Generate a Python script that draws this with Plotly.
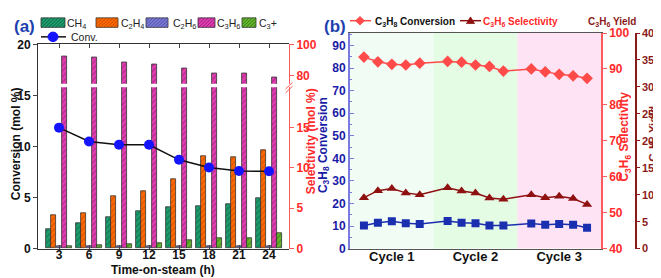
import plotly.graph_objects as go

W, H = 661, 278


def fx(px):
    return px / W


def fy(py):
    return 1 - py / H


FONT = "Liberation Sans, Arial, sans-serif"

# ---------------- data: panel (a) ----------------
time_h = [3, 6, 9, 12, 15, 18, 21, 24]
conv_a = [11.85, 10.5, 10.17, 10.17, 8.7, 7.95, 7.6, 7.57]
sel_ch4 = [2.45, 3.1, 3.9, 4.65, 5.1, 5.25, 5.5, 6.3]
sel_c2h4 = [4.1, 4.4, 6.45, 7.15, 8.65, 11.45, 11.3, 12.15]
sel_c2h6 = [0.35, 0.35, 0.3, 0.3, 0.35, 0.3, 0.3, 0.3]
sel_c3h6 = [92.5, 91.5, 88.7, 87.3, 84.8, 81.8, 81.4, 79.0]
sel_c3p = [0.35, 0.4, 0.55, 0.65, 1.0, 1.35, 1.35, 1.95]

# ---------------- data: panel (b) ----------------
cycle_labels = ["Cycle 1", "Cycle 2", "Cycle 3"]
cycle_centers = [3, 9, 15]
run_x = [1, 2, 3, 4, 5, 7, 8, 9, 10, 11, 13, 14, 15, 16, 17]
conv_b = [10.2, 11.5, 12.1, 11.2, 10.9, 12.2, 11.5, 11.2, 10.2, 10.2,
          11.1, 10.6, 10.9, 10.6, 9.25]
sel_b = [93.3, 92.0, 91.3, 91.1, 91.6, 92.1, 91.9, 91.1, 90.7, 89.4,
         90.0, 89.2, 88.5, 88.1, 87.4]
yield_b = [9.46, 10.75, 11.15, 10.34, 10.0, 11.3, 10.7, 10.3, 9.4, 9.16,
           10.0, 9.46, 9.7, 9.3, 8.2]

red = "#ff2a2a"
redline = "#ff5a5a"
dred = "#8b1a1a"
blue = "#1a1aa6"

fig = go.Figure()

bar_specs = [
    ("CH<sub>4</sub>", sel_ch4, "#1f9d6e", "#0a5a3a", -1.34),
    ("C<sub>2</sub>H<sub>4</sub>", sel_c2h4, "#ff6a00", "#b54000", -0.80),
    ("C<sub>2</sub>H<sub>6</sub>", sel_c2h6, "#7b7bd6", "#44449a", -0.24),
    ("C<sub>3</sub>H<sub>6</sub>", sel_c3h6, "#e23fae", "#86157a", 0.26),
    ("C<sub>3</sub>+", sel_c3p, "#66b82e", "#2c6a10", 0.83),
]
for name, vals, col, hatch, off in bar_specs:
    axes = ["y", "y2"] if vals is sel_c3h6 else ["y"]
    for ya in axes:
        fig.add_trace(go.Bar(
            x=time_h, y=vals, name=name, offset=off, width=0.5,
            xaxis="x", yaxis=ya, showlegend=False,
            marker=dict(color=col, line=dict(color="#333333", width=0.8),
                        pattern=dict(shape="/", bgcolor=col, fgcolor=hatch,
                                     size=4, solidity=0.35)),
        ))

fig.add_trace(go.Scatter(
    x=time_h, y=conv_a, name="Conv.", mode="lines+markers",
    xaxis="x", yaxis="y3", showlegend=False,
    line=dict(color="#111111", width=1.5),
    marker=dict(color="#1414ff", size=10, symbol="circle"),
))

# panel (b)
fig.add_trace(go.Scatter(
    x=run_x, y=sel_b, name="C3H8 Conversion", mode="lines+markers",
    xaxis="x2", yaxis="y5", showlegend=False,
    line=dict(color="#ff4a4a", width=1.5),
    marker=dict(color="#ff4a4a", size=9, symbol="diamond"),
))
fig.add_trace(go.Scatter(
    x=run_x, y=yield_b, name="C3H6 Selectivity", mode="lines+markers",
    xaxis="x2", yaxis="y6", showlegend=False,
    line=dict(color="#8e1010", width=1.5),
    marker=dict(color="#8e1010", size=9, symbol="triangle-up"),
))
fig.add_trace(go.Scatter(
    x=run_x, y=conv_b, name="C3H6 Yield", mode="lines+markers",
    xaxis="x2", yaxis="y4", showlegend=False,
    line=dict(color="#1a2fb0", width=1.5),
    marker=dict(color="#1a2fb0", size=8, symbol="square"),
))

bold12 = dict(family=FONT, size=12, color="#111111", weight="bold")

fig.update_layout(
    width=W, height=H,
    margin=dict(l=0, r=0, t=0, b=0),
    paper_bgcolor="white", plot_bgcolor="rgba(0,0,0,0)",
    barmode="overlay", bargap=0, showlegend=False,
    font=dict(family=FONT, size=12, color="#111111"),
    xaxis=dict(domain=[fx(30), fx(281)], range=[0.9, 26.0], anchor="y3",
               tickvals=time_h, ticks="inside", ticklen=4, mirror="ticks",
               showline=True, linecolor="#333333", linewidth=1,
               ticklabelstandoff=-5,
               showgrid=False, zeroline=False, tickfont=bold12),
    yaxis=dict(domain=[fy(246), fy(76)], range=[0, 20], side="right",
               anchor="x", tickvals=[0, 5, 10, 15], ticks="outside",
               ticklen=4, showline=True, linecolor=redline, linewidth=1,
               tickcolor=redline, showgrid=False, zeroline=False,
               tickfont=dict(family=FONT, size=12, color=red, weight="bold")),
    yaxis2=dict(domain=[fy(72.3), fy(31)], range=[75, 100], side="right",
                anchor="x", tickvals=[80, 100], ticks="outside", ticklen=4,
                showline=True, linecolor=redline, linewidth=1,
                tickcolor=redline, showgrid=False, zeroline=False,
                tickfont=dict(family=FONT, size=12, color=red, weight="bold")),
    yaxis3=dict(domain=[fy(246), fy(31)], range=[0, 20], side="left",
                anchor="x", tickvals=[0, 5, 10, 15, 20], ticks="outside",
                ticklen=4, showline=True, linecolor="#333333", linewidth=1,
                showgrid=False, zeroline=False, tickfont=bold12),
    xaxis2=dict(domain=[fx(342), fx(593)], range=[0, 18], anchor="y4",
                tickvals=cycle_centers, ticktext=cycle_labels, ticks="",
                showline=True, linecolor="#555555", linewidth=1.2,
                ticklabelstandoff=-4,
                mirror=True, showgrid=False, zeroline=False,
                tickfont=dict(family=FONT, size=13, color="#111111",
                              weight="bold")),
    yaxis4=dict(domain=[fy(246), fy(19)], range=[0, 95.5], anchor="x2",
                side="left", tickvals=list(range(0, 100, 10)),
                ticks="inside", ticklen=4, tickcolor="#7b7be0",
                minor=dict(dtick=5, ticks="inside", ticklen=2,
                           tickcolor="#7b7be0"),
                showline=True, linecolor="#7b7be0", linewidth=2,
                showgrid=False, zeroline=False,
                tickfont=dict(family=FONT, size=12, color=blue,
                              weight="bold")),
    yaxis5=dict(overlaying="y4", side="right", anchor="x2", range=[40, 100],
                tickvals=list(range(40, 101, 10)), ticks="outside",
                ticklen=4, tickcolor=redline, showline=True,
                linecolor=redline, linewidth=1.5, showgrid=False,
                zeroline=False,
                tickfont=dict(family=FONT, size=12, color=red,
                              weight="bold")),
    yaxis6=dict(overlaying="y4", side="right", anchor="free",
                position=fx(628), range=[0, 40],
                tickvals=list(range(0, 41, 5)), ticks="outside", ticklen=3,
                tickcolor=dred, showline=True, linecolor=dred, linewidth=1.5,
                showgrid=False, zeroline=False,
                tickfont=dict(family=FONT, size=11, color=dred,
                              weight="bold")),
)

# background shading for cycles
for x0, x1, col in [(0, 6, "#f1fdf4"), (6, 12, "#e4fbe4"),
                    (12, 18, "#fde3f3")]:
    fig.add_shape(type="rect", xref="x2", yref="y4 domain", x0=x0, x1=x1,
                  y0=0, y1=1, fillcolor=col, line=dict(width=0),
                  layer="below")

# axis-break marks on the red selectivity axis of panel (a)
for dy in (0, 4):
    fig.add_shape(type="line", xref="paper", yref="paper",
                  x0=fx(277.5), x1=fx(284.5), y0=fy(78 + dy), y1=fy(71 + dy),
                  line=dict(color=redline, width=1))


def ann(text, xpx, ypx, color="#111111", size=12, angle=0, weight="bold",
        xanchor="center"):
    fig.add_annotation(text=text, x=fx(xpx), y=fy(ypx), xref="paper",
                       yref="paper", showarrow=False, textangle=angle,
                       xanchor=xanchor, yanchor="middle", borderpad=0,
                       font=dict(family=FONT, size=size, color=color,
                                 weight=weight))


def paper_line(x0, y0, x1, y1, color, width=1.5):
    fig.add_shape(type="line", xref="paper", yref="paper", x0=fx(x0),
                  y0=fy(y0), x1=fx(x1), y1=fy(y1),
                  line=dict(color=color, width=width))


def paper_path(pts, color, close=True, fill=None, width=0.8):
    d = "M " + " L ".join(f"{fx(a):.5f},{fy(b):.5f}" for a, b in pts)
    if close:
        d += " Z"
    fig.add_shape(type="path", xref="paper", yref="paper", path=d,
                  fillcolor=fill if fill else "rgba(0,0,0,0)",
                  line=dict(color=color, width=width))


# ----- legend of panel (a): hatched swatches + labels -----
legend_a = [(33, 57, 58), (88, 110, 112), (138, 160, 164), (190, 207, 208),
            (234, 248, 250)]
ly0, ly1 = 3, 13
for (x0, x1, tx), (name, _, col, hatch, _) in zip(legend_a, bar_specs):
    fig.add_shape(type="rect", xref="paper", yref="paper", x0=fx(x0),
                  x1=fx(x1), y0=fy(ly1), y1=fy(ly0), fillcolor=col,
                  line=dict(color="#333333", width=0.8))
    segs = []
    t = x0 - 10
    while t < x1:
        sx, sy = t, ly1
        ex, ey = t + 10, ly0
        if sx < x0:
            sy = ly1 - (x0 - sx)
            sx = x0
        if ex > x1:
            ey = ly0 + (ex - x1)
            ex = x1
        if ex > sx:
            segs.append(f"M {fx(sx):.5f},{fy(sy):.5f} L {fx(ex):.5f},{fy(ey):.5f}")
        t += 3.5
    fig.add_shape(type="path", xref="paper", yref="paper", path=" ".join(segs),
                  line=dict(color=hatch, width=0.8))
    ann(name, tx, 9, "#222222", 10.5, weight="normal", xanchor="left")

# "Conv." entry
paper_line(33, 23, 58, 23, "#111111", 1.5)
fig.add_shape(type="circle", xref="paper", yref="paper", x0=fx(40),
              x1=fx(50), y0=fy(28), y1=fy(18), fillcolor="#1414ff",
              line=dict(color="#1414ff", width=1))
ann("Conv.", 62, 23, "#222222", 10.5, weight="normal", xanchor="left")

# ----- legend of panel (b) -----
paper_line(342, 6, 363, 6, "#ff4a4a", 1.5)
paper_path([(352, 1.5), (356.5, 6), (352, 10.5), (347.5, 6)], "#ff4a4a",
           fill="#ff4a4a")
ann("C<sub>3</sub>H<sub>8</sub> Conversion", 366, 7, "#111111", 10,
    xanchor="left")
paper_line(452, 6, 473, 6, "#8e1010", 1.5)
paper_path([(462.5, 2), (466.5, 9), (458.5, 9)], "#8e1010", fill="#8e1010")
ann("C<sub>3</sub>H<sub>6</sub> Selectivity", 474, 7, red, 10,
    xanchor="left")
ann("C<sub>3</sub>H<sub>6</sub> Yield", 579, 7, dred, 10, xanchor="left")

# ----- panel labels and axis titles -----
ann("(a)", 16, 12, "#1e3fb0", 17)
ann("(b)", 327, 12, "#1e3fb0", 17)
ann("Conversion (mol %)", 8, 136, angle=-90)
ann("Selectivity (mol %)", 303, 133, red, angle=-90)
ann("Time-on-steam (h)", 155, 268)
ann("C<sub>3</sub>H<sub>8</sub> Conversion", 316, 137, blue, angle=-90)
ann("C<sub>3</sub>H<sub>6</sub> Selectivity", 617, 128, red, angle=-90)
ann("C<sub>3</sub>H<sub>6</sub> Yield", 646, 125, dred, size=11.5, angle=-90)

fig.write_html("out.html")
